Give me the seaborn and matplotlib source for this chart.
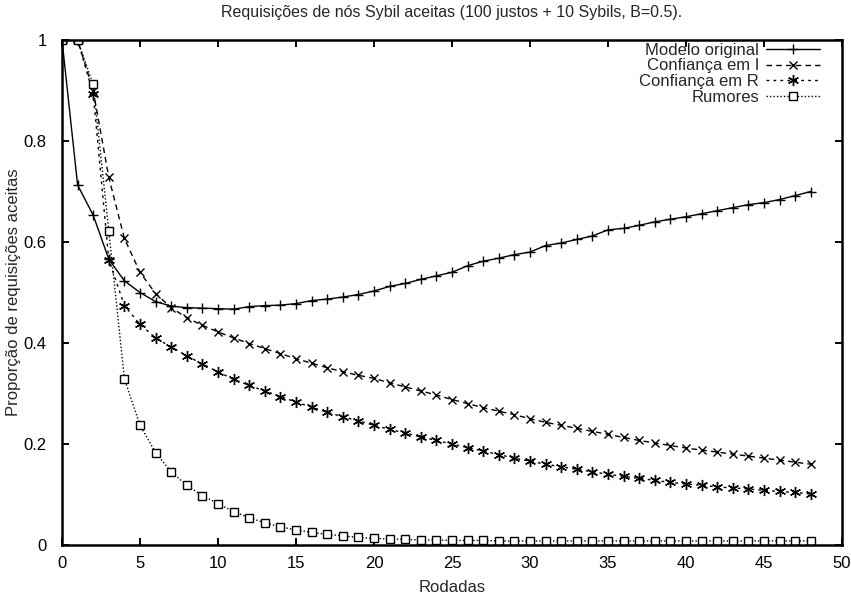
import seaborn as sns
import pandas as pd
import matplotlib.pyplot as plt

# data
rodadas = list(range(49))

modelo_original = [1.0, 0.713, 0.653, 0.566, 0.523, 0.500, 0.482, 0.473, 0.470, 0.469,
                   0.468, 0.467, 0.472, 0.474, 0.475, 0.478, 0.484, 0.487, 0.491, 0.496,
                   0.503, 0.512, 0.518, 0.526, 0.533, 0.540, 0.553, 0.562, 0.568, 0.575,
                   0.580, 0.593, 0.598, 0.605, 0.612, 0.624, 0.627, 0.633, 0.640, 0.645,
                   0.650, 0.656, 0.662, 0.668, 0.674, 0.678, 0.684, 0.692, 0.700]

confianca_i = [1.0, 1.0, 0.900, 0.728, 0.607, 0.540, 0.498, 0.470, 0.450, 0.435,
               0.422, 0.410, 0.399, 0.389, 0.379, 0.369, 0.360, 0.351, 0.343, 0.336,
               0.330, 0.321, 0.313, 0.305, 0.297, 0.288, 0.280, 0.272, 0.265, 0.258,
               0.250, 0.243, 0.237, 0.231, 0.225, 0.219, 0.213, 0.207, 0.202, 0.197,
               0.192, 0.188, 0.184, 0.180, 0.176, 0.172, 0.168, 0.164, 0.160]

confianca_r = [1.0, 1.0, 0.893, 0.565, 0.474, 0.437, 0.410, 0.392, 0.375, 0.358,
               0.343, 0.328, 0.316, 0.305, 0.294, 0.283, 0.273, 0.263, 0.254, 0.246,
               0.237, 0.229, 0.222, 0.214, 0.207, 0.200, 0.193, 0.186, 0.179, 0.172,
               0.166, 0.160, 0.155, 0.150, 0.145, 0.140, 0.136, 0.132, 0.128, 0.124,
               0.121, 0.118, 0.115, 0.113, 0.111, 0.108, 0.106, 0.104, 0.101]

rumores = [1.0, 1.0, 0.912, 0.622, 0.329, 0.237, 0.183, 0.145, 0.118, 0.098,
           0.082, 0.066, 0.054, 0.044, 0.036, 0.030, 0.025, 0.021, 0.018, 0.015,
           0.013, 0.012, 0.011, 0.010, 0.010, 0.009, 0.009, 0.009, 0.008, 0.008,
           0.008, 0.008, 0.008, 0.008, 0.008, 0.008, 0.008, 0.008, 0.008, 0.008,
           0.008, 0.008, 0.008, 0.008, 0.008, 0.008, 0.008, 0.008, 0.008]

x_ticks = [0, 5, 10, 15, 20, 25, 30, 35, 40, 45, 50]
y_ticks = [0, 0.2, 0.4, 0.6, 0.8, 1]
y_tick_labels = ["0", "0.2", "0.4", "0.6", "0.8", "1"]

sns.set_style("white", {
    "xtick.direction": "in", "ytick.direction": "in",
    "xtick.top": True, "ytick.right": True,
    "xtick.bottom": True, "ytick.left": True,
})
plt.rcParams['font.family'] = ['Liberation Sans', 'DejaVu Sans']
plt.rcParams['xtick.major.size'] = 5
plt.rcParams['ytick.major.size'] = 5
plt.rcParams['xtick.major.width'] = 1.4
plt.rcParams['ytick.major.width'] = 1.4

fig = plt.figure(figsize=(8.51, 5.99), dpi=100)
ax = fig.add_axes([62 / 851, 1 - 545 / 599, 780 / 851, 505 / 599])

series = [
    ("Modelo original", modelo_original, dict(marker="+", markersize=7, linestyle="-")),
    ("Confiança em I", confianca_i, dict(marker="x", markersize=6, linestyle=(0, (4, 3)))),
    ("Confiança em R", confianca_r, dict(marker=(6, 2, 0), markersize=8, linestyle=(0, (2, 3)))),
    ("Rumores", rumores, dict(marker="s", markersize=6, markerfacecolor="white",
                              linestyle=(0, (1, 1.5)))),
]

for label, vals, style in series:
    df = pd.DataFrame({"Rodadas": rodadas, "valor": vals})
    sns.lineplot(data=df, x="Rodadas", y="valor", ax=ax, color="black", label=label,
                 linewidth=1.0, markeredgecolor="black", markeredgewidth=1.0, **style)

ax.set_xlim(0, 50)
ax.set_ylim(0, 1)
ax.set_xticks(x_ticks)
ax.set_xticklabels([str(t) for t in x_ticks], fontsize=12)
ax.set_yticks(y_ticks)
ax.set_yticklabels(y_tick_labels, fontsize=12)
ax.tick_params(axis="x", pad=8, colors="black")
ax.tick_params(axis="y", pad=11, colors="black")
for sp in ax.spines.values():
    sp.set_linewidth(1.8)
    sp.set_color("black")

ax.set_xlabel("Rodadas", fontsize=12, va="center")
ax.xaxis.set_label_coords(0.5, (545 - 587) / 505)
ax.set_ylabel("Proporção de requisições aceitas", fontsize=12, va="center")
ax.yaxis.set_label_coords((14 - 62) / 780, 0.5)
ax.text(0.5, 1 + (40 - 12) / 505,
        "Requisições de nós Sybil aceitas (100 justos + 10 Sybils, B=0.5).",
        transform=ax.transAxes, ha="center", va="center", fontsize=11.5)

leg = ax.legend(loc="upper right", bbox_to_anchor=((826.7 - 62) / 780, 1.008), frameon=False,
                markerfirst=False, fontsize=12, handlelength=3.25, handletextpad=0.4,
                labelspacing=0.05, borderaxespad=0.0)
for col in leg._legend_handle_box.get_children():
    col.align = "right"

fig.savefig("out.png", dpi=100)
